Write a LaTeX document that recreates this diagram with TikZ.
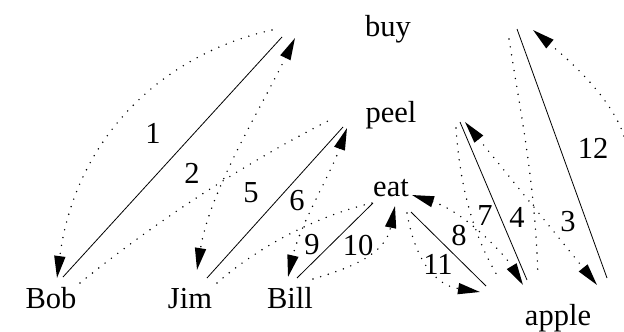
\documentclass[tikz,border=0pt]{standalone}
\usepackage{fontspec}
\setmainfont{Liberation Serif}
\usetikzlibrary{arrows.meta}

\begin{document}
\begin{tikzpicture}[
  x=1pt, y=-1pt,
  font=\fontsize{30.5}{36}\selectfont,
  word/.style={inner sep=0pt, anchor=base},
  num/.style={inner sep=0pt},
  arc/.style={line width=0.8pt},
  walk/.style={line width=1.6pt, dash pattern=on 0pt off 8pt, line cap=round},
  head/.style={-{Triangle[length=22pt,width=11pt]}},
  heads/.style={{Triangle[length=22pt,width=11pt]}-{Triangle[length=22pt,width=11pt]}}
]
  \useasboundingbox (0,0) rectangle (624,332);

  % words
  \node[word] (buy)   at (388,36)  {buy};
  \node[word] (peel)  at (391,122) {peel};
  \node[word] (eat)   at (391,196) {eat};
  \node[word] (bob)   at (51,308)  {Bob};
  \node[word] (jim)   at (190,308) {Jim};
  \node[word] (bill)  at (290,308) {Bill};
  \node[word] (apple) at (558,325) {apple};

  % ends of the arcs
  \coordinate (bobA) at (63,277);   \coordinate (buyA) at (282,37);
  \coordinate (jimA) at (207,278);  \coordinate (peelA) at (343,127);
  \coordinate (billA) at (297,278); \coordinate (eatA) at (373,203);
  \coordinate (eatB) at (411,212);  \coordinate (appleA) at (486,286);
  \coordinate (peelB) at (460,122); \coordinate (appleB) at (527,280);
  \coordinate (buyB) at (517,29);   \coordinate (appleC) at (607,278);

  \foreach \a/\b in {bobA/buyA, jimA/peelA, billA/eatA, eatB/appleA, peelB/appleB, buyB/appleC}{
    \draw[arc] (\a) -- (\b);
  }

  % ends of the walk
  \coordinate (buyC) at (272,30);   \coordinate (bobB) at (57,278);
  \coordinate (bobC) at (80,283);   \coordinate (peelC) at (328,121);
  \coordinate (buyD) at (295,38);   \coordinate (jimB) at (197,270);
  \coordinate (jimC) at (217,283);  \coordinate (eatC) at (372,203);
  \coordinate (peelD) at (347,128); \coordinate (billB) at (288,277);
  \coordinate (billC) at (313,279); \coordinate (eatD) at (395,206);
  \coordinate (eatE) at (412,195);  \coordinate (appleD) at (523,285);
  \coordinate (peelE) at (456,128); \coordinate (appleE) at (500,280);
  \coordinate (eatF) at (407,213);  \coordinate (appleF) at (480,292);
  \coordinate (peelF) at (465,122); \coordinate (appleG) at (597,285);
  \coordinate (buyE) at (509,39);   \coordinate (appleH) at (538,277);
  \coordinate (edge) at (624,136);  \coordinate (buyF) at (533,30);

  \draw[walk, head]  (buyC) .. controls (160,55) and (75,140) .. (bobB);
  \draw[walk]        (bobC) .. controls (155,222) and (245,163) .. (peelC);
  \draw[walk, heads] (buyD) .. controls (260,110) and (210,190) .. (jimB);
  \draw[walk]        (jimC) .. controls (260,245) and (320,215) .. (eatC);
  \draw[walk, heads] (peelD) .. controls (330,175) and (300,225) .. (billB);
  \draw[walk, head]  (billC) .. controls (350,268) and (385,255) .. (eatD);
  \draw[walk, heads] (eatE) .. controls (465,212) and (505,255) .. (appleD);
  \draw[walk]        (peelE) .. controls (460,190) and (475,240) .. (appleE);
  \draw[walk, head]  (eatF) .. controls (415,260) and (435,285) .. (appleF);
  \draw[walk, heads] (peelF) -- (appleG);
  \draw[walk]        (buyE) .. controls (520,110) and (535,180) .. (appleH);
  \draw[walk, head]  (edge) .. controls (612,100) and (575,65) .. (buyF);

  % step numbers
  \foreach \n/\x/\y in {1/153/133, 2/192/173, 3/568/222, 4/517/217, 5/251/193, 6/297/201,
                        7/485/216, 8/459/236, 9/312/245, 10/358/246, 11/438/264, 12/593/148}{
    \node[num] (s\n) at (\x,\y) {\n};
  }
\end{tikzpicture}
\end{document}
